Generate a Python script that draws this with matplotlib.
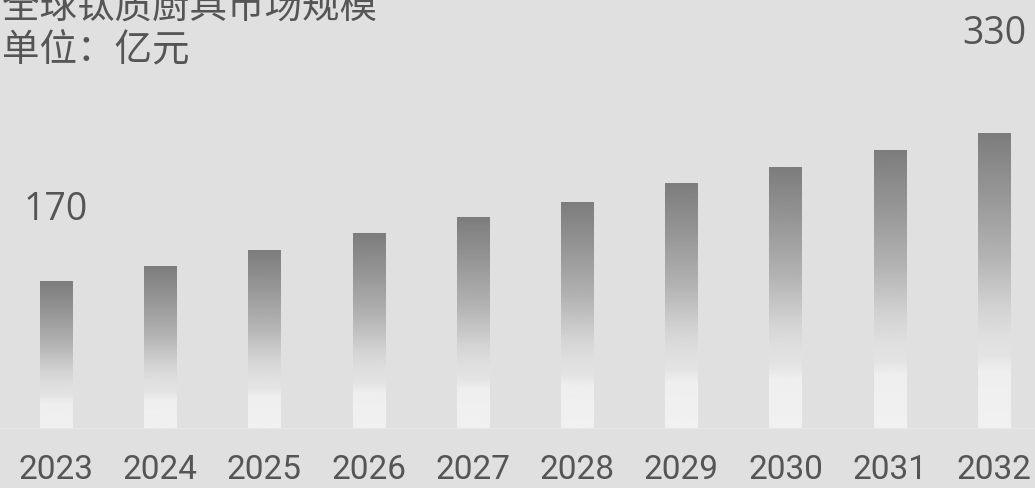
import numpy as np
import matplotlib
matplotlib.use("Agg")
import matplotlib.pyplot as plt

years = ["2023", "2024", "2025", "2026", "2027", "2028", "2029", "2030", "2031", "2032"]
market_size = [170, 186, 203, 221, 239, 255, 276, 293, 311, 330]
labelled = {0: "170", 9: "330"}

bg = "#e0e0e0"
text_color = "#555555"

fig = plt.figure(figsize=(10.35, 4.89), dpi=100, facecolor=bg)
ax = fig.add_axes([0, 59 / 489, 1, 430 / 489])
ax.set_facecolor(bg)

# vertical fade for each bar: dark at the top, washed out towards the base
f = np.linspace(0, 1, 300)
shade = np.interp(f, [0, 0.22, 0.27, 0.33, 0.42, 0.6, 0.8, 1.0],
                  [0.945, 0.935, 0.89, 0.875, 0.83, 0.70, 0.59, 0.49])
grad = shade[::-1].reshape(-1, 1)

width = 0.31
for i, v in enumerate(market_size):
    ax.imshow(grad, cmap="gray", vmin=0, vmax=1, aspect="auto",
              extent=[i - width / 2, i + width / 2, 0, v], interpolation="bilinear")

for i, txt in labelled.items():
    off = 52 if i == 0 else 72
    ax.annotate(txt, (i, market_size[i]), xytext=(0, off), textcoords="offset points",
                ha="center", va="center", fontsize=27, color=text_color,
                family=["Open Sans", "DejaVu Sans"])

ax.set_xlim(-0.537, 9.393)
ax.set_ylim(10, 475)
ax.set_aspect("auto")
ax.axhline(10, color="#e8e8e8", lw=2)

ax.set_xticks(range(len(years)))
ax.set_xticklabels(years, fontsize=24, color=text_color,
                   family=["Roboto", "DejaVu Sans"])
ax.tick_params(axis="x", length=0, pad=17.5)
ax.set_yticks([])
for s in ax.spines.values():
    s.set_visible(False)

cjk = ["Noto Sans CJK SC", "DejaVu Sans"]
fig.text(0.002, 0.984, "全球钛质厨具市场规模", fontsize=27, color=text_color,
         family=cjk, ha="left", va="center")
fig.text(0.002, 0.896, "单位：亿元", fontsize=27, color=text_color,
         family=cjk, ha="left", va="center")

fig.savefig("out.png", dpi=100, facecolor=bg)
